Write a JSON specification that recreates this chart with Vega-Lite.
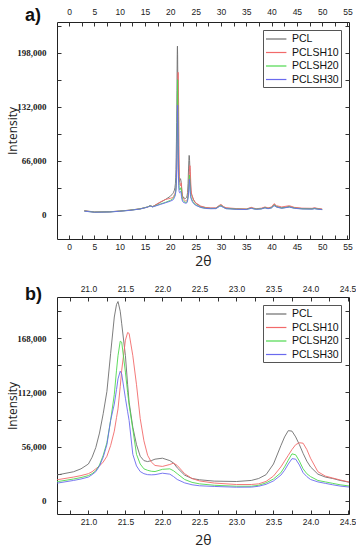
{
  "$schema": "https://vega.github.io/schema/vega-lite/v6.json",
  "autosize": {"type": "pad"},
  "padding": {"left": 6, "top": 6, "right": 0, "bottom": 0},
  "background": "white",
  "datasets": {
    "xrd": [
      {"t": 3, "PCL": 5000, "PCLSH10": 4600, "PCLSH20": 4400, "PCLSH30": 4300},
      {"t": 5, "PCL": 3300, "PCLSH10": 3200, "PCLSH20": 3100, "PCLSH30": 3000},
      {"t": 8, "PCL": 3600, "PCLSH10": 3500, "PCLSH20": 3400, "PCLSH30": 3300},
      {"t": 10, "PCL": 4500, "PCLSH10": 4400, "PCLSH20": 4300, "PCLSH30": 4200},
      {"t": 12, "PCL": 5600, "PCLSH10": 5500, "PCLSH20": 5400, "PCLSH30": 5300},
      {"t": 14, "PCL": 7200, "PCLSH10": 7100, "PCLSH20": 7000, "PCLSH30": 6900},
      {"t": 15.5, "PCL": 9500, "PCLSH10": 9300, "PCLSH20": 9400, "PCLSH30": 9200},
      {"t": 16, "PCL": 11000, "PCLSH10": 10800, "PCLSH20": 10900, "PCLSH30": 10700},
      {"t": 16.5, "PCL": 10000, "PCLSH10": 9800, "PCLSH20": 9600, "PCLSH30": 9500},
      {"t": 18, "PCL": 15000, "PCLSH10": 15500, "PCLSH20": 13000, "PCLSH30": 12500},
      {"t": 19, "PCL": 18500, "PCLSH10": 18500, "PCLSH20": 15000, "PCLSH30": 14500},
      {"t": 20, "PCL": 22500, "PCLSH10": 20000, "PCLSH20": 17500, "PCLSH30": 16500},
      {"t": 20.5, "PCL": 26000, "PCLSH10": 21000, "PCLSH20": 19500, "PCLSH30": 18000},
      {"t": 20.6, "PCL": 27000, "PCLSH10": 22000, "PCLSH20": 20000, "PCLSH30": 18500},
      {"t": 20.8, "PCL": 30000, "PCLSH10": 24500, "PCLSH20": 22500, "PCLSH30": 21000},
      {"t": 20.9, "PCL": 33000, "PCLSH10": 26000, "PCLSH20": 24000, "PCLSH30": 22500},
      {"t": 21.0, "PCL": 38000, "PCLSH10": 28000, "PCLSH20": 26000, "PCLSH30": 24500},
      {"t": 21.05, "PCL": 45000, "PCLSH10": 30000, "PCLSH20": 28000, "PCLSH30": 27000},
      {"t": 21.1, "PCL": 55000, "PCLSH10": 33000, "PCLSH20": 31000, "PCLSH30": 30000},
      {"t": 21.15, "PCL": 70000, "PCLSH10": 36000, "PCLSH20": 37000, "PCLSH30": 36000},
      {"t": 21.2, "PCL": 90000, "PCLSH10": 40000, "PCLSH20": 47000, "PCLSH30": 45000},
      {"t": 21.25, "PCL": 113000, "PCLSH10": 46000, "PCLSH20": 60000, "PCLSH30": 58000},
      {"t": 21.3, "PCL": 152000, "PCLSH10": 57000, "PCLSH20": 83000, "PCLSH30": 83000},
      {"t": 21.35, "PCL": 190000, "PCLSH10": 72000, "PCLSH20": 110000, "PCLSH30": 100000},
      {"t": 21.38, "PCL": 203000, "PCLSH10": 86000, "PCLSH20": 135000, "PCLSH30": 115000},
      {"t": 21.4, "PCL": 206000, "PCLSH10": 95000, "PCLSH20": 150000, "PCLSH30": 126000},
      {"t": 21.43, "PCL": 196000, "PCLSH10": 118000, "PCLSH20": 165000, "PCLSH30": 134000},
      {"t": 21.45, "PCL": 183000, "PCLSH10": 135000, "PCLSH20": 164000, "PCLSH30": 131000},
      {"t": 21.5, "PCL": 150000, "PCLSH10": 166000, "PCLSH20": 133000, "PCLSH30": 106000},
      {"t": 21.53, "PCL": 120000, "PCLSH10": 174000, "PCLSH20": 112000, "PCLSH30": 92000},
      {"t": 21.55, "PCL": 102000, "PCLSH10": 173000, "PCLSH20": 99000, "PCLSH30": 83000},
      {"t": 21.6, "PCL": 76000, "PCLSH10": 150000, "PCLSH20": 74000, "PCLSH30": 48000},
      {"t": 21.65, "PCL": 58000, "PCLSH10": 120000, "PCLSH20": 48000, "PCLSH30": 36000},
      {"t": 21.7, "PCL": 46000, "PCLSH10": 85000, "PCLSH20": 38000, "PCLSH30": 30200},
      {"t": 21.75, "PCL": 41500, "PCLSH10": 62000, "PCLSH20": 33000, "PCLSH30": 28000},
      {"t": 21.8, "PCL": 40500, "PCLSH10": 47000, "PCLSH20": 31500, "PCLSH30": 27000},
      {"t": 21.85, "PCL": 41500, "PCLSH10": 40000, "PCLSH20": 30500, "PCLSH30": 26800},
      {"t": 21.9, "PCL": 43000, "PCLSH10": 36500, "PCLSH20": 30200, "PCLSH30": 27000},
      {"t": 22.0, "PCL": 44000, "PCLSH10": 35500, "PCLSH20": 32500, "PCLSH30": 28500},
      {"t": 22.1, "PCL": 41500, "PCLSH10": 37500, "PCLSH20": 33000, "PCLSH30": 27500},
      {"t": 22.15, "PCL": 39000, "PCLSH10": 38900, "PCLSH20": 31000, "PCLSH30": 25000},
      {"t": 22.2, "PCL": 34000, "PCLSH10": 36500, "PCLSH20": 28000, "PCLSH30": 22000},
      {"t": 22.3, "PCL": 26500, "PCLSH10": 28000, "PCLSH20": 22000, "PCLSH30": 18500},
      {"t": 22.4, "PCL": 23000, "PCLSH10": 23000, "PCLSH20": 19000, "PCLSH30": 16500},
      {"t": 22.5, "PCL": 21700, "PCLSH10": 20500, "PCLSH20": 17500, "PCLSH30": 15500},
      {"t": 22.7, "PCL": 20300, "PCLSH10": 18300, "PCLSH20": 16000, "PCLSH30": 14800},
      {"t": 23.0, "PCL": 19900, "PCLSH10": 16800, "PCLSH20": 15000, "PCLSH30": 14000},
      {"t": 23.2, "PCL": 21000, "PCLSH10": 16800, "PCLSH20": 15000, "PCLSH30": 14100},
      {"t": 23.3, "PCL": 23000, "PCLSH10": 17500, "PCLSH20": 16000, "PCLSH30": 15000},
      {"t": 23.4, "PCL": 27000, "PCLSH10": 20000, "PCLSH20": 18500, "PCLSH30": 17000},
      {"t": 23.5, "PCL": 38000, "PCLSH10": 25500, "PCLSH20": 22500, "PCLSH30": 20500},
      {"t": 23.6, "PCL": 57000, "PCLSH10": 35000, "PCLSH20": 29000, "PCLSH30": 26500},
      {"t": 23.65, "PCL": 66000, "PCLSH10": 41000, "PCLSH20": 35000, "PCLSH30": 31500},
      {"t": 23.7, "PCL": 72500, "PCLSH10": 47000, "PCLSH20": 42000, "PCLSH30": 38000},
      {"t": 23.75, "PCL": 72000, "PCLSH10": 53000, "PCLSH20": 48500, "PCLSH30": 43500},
      {"t": 23.8, "PCL": 66000, "PCLSH10": 58000, "PCLSH20": 47500, "PCLSH30": 43000},
      {"t": 23.85, "PCL": 58000, "PCLSH10": 60000, "PCLSH20": 41000, "PCLSH30": 37000},
      {"t": 23.9, "PCL": 49000, "PCLSH10": 59500, "PCLSH20": 33000, "PCLSH30": 29000},
      {"t": 23.95, "PCL": 41000, "PCLSH10": 53000, "PCLSH20": 28000, "PCLSH30": 25000},
      {"t": 24.0, "PCL": 35000, "PCLSH10": 44000, "PCLSH20": 25000, "PCLSH30": 22000},
      {"t": 24.1, "PCL": 27500, "PCLSH10": 30000, "PCLSH20": 21000, "PCLSH30": 19500},
      {"t": 24.2, "PCL": 24500, "PCLSH10": 25500, "PCLSH20": 19500, "PCLSH30": 18000},
      {"t": 24.3, "PCL": 23000, "PCLSH10": 23500, "PCLSH20": 18000, "PCLSH30": 16500},
      {"t": 24.4, "PCL": 21000, "PCLSH10": 21500, "PCLSH20": 16500, "PCLSH30": 15200},
      {"t": 24.6, "PCL": 18000, "PCLSH10": 18000, "PCLSH20": 14500, "PCLSH30": 13500},
      {"t": 25, "PCL": 14000, "PCLSH10": 14500, "PCLSH20": 12000, "PCLSH30": 11500},
      {"t": 26, "PCL": 10000, "PCLSH10": 10500, "PCLSH20": 9000, "PCLSH30": 8800},
      {"t": 27, "PCL": 8500, "PCLSH10": 8800, "PCLSH20": 7800, "PCLSH30": 7600},
      {"t": 28, "PCL": 8000, "PCLSH10": 8200, "PCLSH20": 7500, "PCLSH30": 7300},
      {"t": 29, "PCL": 8000, "PCLSH10": 8300, "PCLSH20": 7600, "PCLSH30": 7400},
      {"t": 29.7, "PCL": 11000, "PCLSH10": 11500, "PCLSH20": 10500, "PCLSH30": 10000},
      {"t": 30, "PCL": 12000, "PCLSH10": 12500, "PCLSH20": 11000, "PCLSH30": 10500},
      {"t": 30.5, "PCL": 9500, "PCLSH10": 10000, "PCLSH20": 9000, "PCLSH30": 8800},
      {"t": 31, "PCL": 8000, "PCLSH10": 8500, "PCLSH20": 7500, "PCLSH30": 7300},
      {"t": 33, "PCL": 7000, "PCLSH10": 7500, "PCLSH20": 6800, "PCLSH30": 6600},
      {"t": 35, "PCL": 6800, "PCLSH10": 7000, "PCLSH20": 6500, "PCLSH30": 6300},
      {"t": 36, "PCL": 8500, "PCLSH10": 9000, "PCLSH20": 8000, "PCLSH30": 7800},
      {"t": 36.5, "PCL": 7500, "PCLSH10": 8000, "PCLSH20": 7200, "PCLSH30": 7000},
      {"t": 37, "PCL": 7000, "PCLSH10": 7300, "PCLSH20": 6800, "PCLSH30": 6600},
      {"t": 38, "PCL": 7500, "PCLSH10": 8000, "PCLSH20": 7200, "PCLSH30": 7000},
      {"t": 38.7, "PCL": 9000, "PCLSH10": 9500, "PCLSH20": 8500, "PCLSH30": 8300},
      {"t": 39.3, "PCL": 7800, "PCLSH10": 8300, "PCLSH20": 7500, "PCLSH30": 7300},
      {"t": 40, "PCL": 9000, "PCLSH10": 9500, "PCLSH20": 8500, "PCLSH30": 8300},
      {"t": 40.5, "PCL": 12500, "PCLSH10": 13500, "PCLSH20": 11500, "PCLSH30": 11000},
      {"t": 41, "PCL": 10000, "PCLSH10": 11000, "PCLSH20": 9500, "PCLSH30": 9200},
      {"t": 42, "PCL": 8500, "PCLSH10": 9500, "PCLSH20": 8000, "PCLSH30": 7800},
      {"t": 43.5, "PCL": 10000, "PCLSH10": 11000, "PCLSH20": 9500, "PCLSH30": 9300},
      {"t": 44.5, "PCL": 8500, "PCLSH10": 9000, "PCLSH20": 8000, "PCLSH30": 7800},
      {"t": 46, "PCL": 7500, "PCLSH10": 8000, "PCLSH20": 7200, "PCLSH30": 7000},
      {"t": 48, "PCL": 7300, "PCLSH10": 7800, "PCLSH20": 7000, "PCLSH30": 6800},
      {"t": 48.5, "PCL": 8000, "PCLSH10": 8500, "PCLSH20": 7500, "PCLSH30": 7300},
      {"t": 49, "PCL": 7300, "PCLSH10": 7800, "PCLSH20": 7000, "PCLSH30": 6800},
      {"t": 50, "PCL": 6500, "PCLSH10": 7000, "PCLSH20": 6300, "PCLSH30": 6200}
    ]
  },
  "data": {"name": "xrd"},
  "transform": [
    {"fold": ["PCL", "PCLSH10", "PCLSH20", "PCLSH30"], "as": ["series", "intensity"]}
  ],
  "spacing": 58,
  "bounds": "flush",
  "resolve": {"scale": {"color": "independent"}},
  "vconcat": [
    {
      "width": 292,
      "height": 217,
      "title": {"text": "a)", "anchor": "start", "frame": "group", "dx": -32, "dy": 22},
      "layer": [
        {
          "mark": {"type": "line", "strokeWidth": 0.9, "clip": true},
          "encoding": {
            "x": {"field": "t", "type": "quantitative",
              "scale": {"domain": [-2.4, 55.3], "nice": false, "zero": false},
              "axis": {"orient": "bottom", "title": "2θ", "titlePadding": 4,
                "values": [0, 2.5, 5, 7.5, 10, 12.5, 15, 17.5, 20, 22.5, 25, 27.5, 30, 32.5, 35, 37.5, 40, 42.5, 45, 47.5, 50, 52.5, 55],
                "labelExpr": "datum.value % 5 === 0 ? format(datum.value, 'd') : ''", "labelPadding": 7}},
            "y": {"field": "intensity", "type": "quantitative",
              "scale": {"domain": [-29700, 235500], "nice": false, "zero": false},
              "axis": {"orient": "left", "title": "Intensity", "titlePadding": -3,
                "values": [0, 33000, 66000, 99000, 132000, 165000, 198000, 231000],
                "labelExpr": "datum.value % 66000 === 0 ? format(datum.value, ',') : ''", "labelPadding": 15}},
            "color": {"field": "series", "type": "nominal",
              "scale": {"domain": ["PCL", "PCLSH10", "PCLSH20", "PCLSH30"], "range": ["#6e6e6e", "#f26a6a", "#4ed84e", "#6a6aee"]},
              "legend": {"orient": "top-right", "offset": 8, "title": null}}
          }
        },
        {
          "mark": {"type": "line", "strokeOpacity": 0, "clip": true},
          "encoding": {
            "x": {"field": "t", "type": "quantitative",
              "scale": {"domain": [-2.4, 55.3], "nice": false, "zero": false},
              "axis": {"orient": "top", "title": null,
                "values": [0, 2.5, 5, 7.5, 10, 12.5, 15, 17.5, 20, 22.5, 25, 27.5, 30, 32.5, 35, 37.5, 40, 42.5, 45, 47.5, 50, 52.5, 55],
                "labelExpr": "datum.value % 5 === 0 ? format(datum.value, 'd') : ''", "labelPadding": 10}},
            "y": {"field": "intensity", "type": "quantitative",
              "scale": {"domain": [-29700, 235500], "nice": false, "zero": false},
              "axis": {"orient": "right", "title": null, "labels": false,
                "values": [0, 33000, 66000, 99000, 132000, 165000, 198000, 231000]}},
            "detail": {"field": "series"}
          }
        }
      ],
      "resolve": {"axis": {"x": "independent", "y": "independent"}}
    },
    {
      "width": 292,
      "height": 217,
      "title": {"text": "b)", "anchor": "start", "frame": "group", "dx": -32, "dy": 24},
      "layer": [
        {
          "mark": {"type": "line", "strokeWidth": 0.9, "clip": true},
          "encoding": {
            "x": {"field": "t", "type": "quantitative",
              "scale": {"domain": [20.576, 24.52], "nice": false, "zero": false},
              "axis": {"orient": "bottom", "title": "2θ", "titlePadding": 8,
                "values": [20.75, 21, 21.25, 21.5, 21.75, 22, 22.25, 22.5, 22.75, 23, 23.25, 23.5, 23.75, 24, 24.25, 24.5],
                "labelExpr": "(datum.value * 2) % 1 === 0 ? format(datum.value, '.1f') : ''", "labelPadding": 7}},
            "y": {"field": "intensity", "type": "quantitative",
              "scale": {"domain": [-13700, 210700], "nice": false, "zero": false},
              "axis": {"orient": "left", "title": "Intensity", "titlePadding": -3,
                "values": [0, 28000, 56000, 84000, 112000, 140000, 168000, 196000],
                "labelExpr": "datum.value % 56000 === 0 ? format(datum.value, ',') : ''", "labelPadding": 15}},
            "color": {"field": "series", "type": "nominal",
              "scale": {"domain": ["PCL", "PCLSH10", "PCLSH20", "PCLSH30"], "range": ["#6e6e6e", "#f26a6a", "#4ed84e", "#6a6aee"]},
              "legend": {"orient": "top-right", "offset": 8, "title": null}}
          }
        },
        {
          "mark": {"type": "line", "strokeOpacity": 0, "clip": true},
          "encoding": {
            "x": {"field": "t", "type": "quantitative",
              "scale": {"domain": [20.576, 24.52], "nice": false, "zero": false},
              "axis": {"orient": "top", "title": null,
                "values": [20.75, 21, 21.25, 21.5, 21.75, 22, 22.25, 22.5, 22.75, 23, 23.25, 23.5, 23.75, 24, 24.25, 24.5],
                "labelExpr": "(datum.value * 2) % 1 === 0 ? format(datum.value, '.1f') : ''", "labelPadding": 8}},
            "y": {"field": "intensity", "type": "quantitative",
              "scale": {"domain": [-13700, 210700], "nice": false, "zero": false},
              "axis": {"orient": "right", "title": null, "labels": false,
                "values": [0, 28000, 56000, 84000, 112000, 140000, 168000, 196000]}},
            "detail": {"field": "series"}
          }
        }
      ],
      "resolve": {"axis": {"x": "independent", "y": "independent"}}
    }
  ],
  "config": {
    "view": {"stroke": "#222", "strokeWidth": 1},
    "axis": {"domain": false, "grid": false, "tickSize": -4, "tickColor": "#333", "tickWidth": 1,
      "labelColor": "#222", "titleFont": "Open Sans", "titleColor": "#222", "titleFontWeight": "normal"},
    "axisX": {"labelFont": "Liberation Sans", "labelFontSize": 8.5, "titleFontSize": 14, "labelFlush": false, "labelOverlap": false},
    "axisY": {"labelFont": "Liberation Serif", "labelFontWeight": "bold", "labelFontSize": 9, "titleFontSize": 12, "labelOverlap": false},
    "legend": {"strokeColor": "#555", "fillColor": "white", "padding": 2, "symbolType": "M-1,0H2.4", "symbolSize": 144,
      "symbolStrokeWidth": 1.2, "labelFont": "Liberation Sans", "labelFontSize": 10.5, "labelColor": "#111",
      "labelOffset": 13, "rowPadding": 0.5, "cornerRadius": 0},
    "title": {"font": "Liberation Sans", "fontSize": 18, "fontWeight": "bold", "color": "#111"}
  }
}
